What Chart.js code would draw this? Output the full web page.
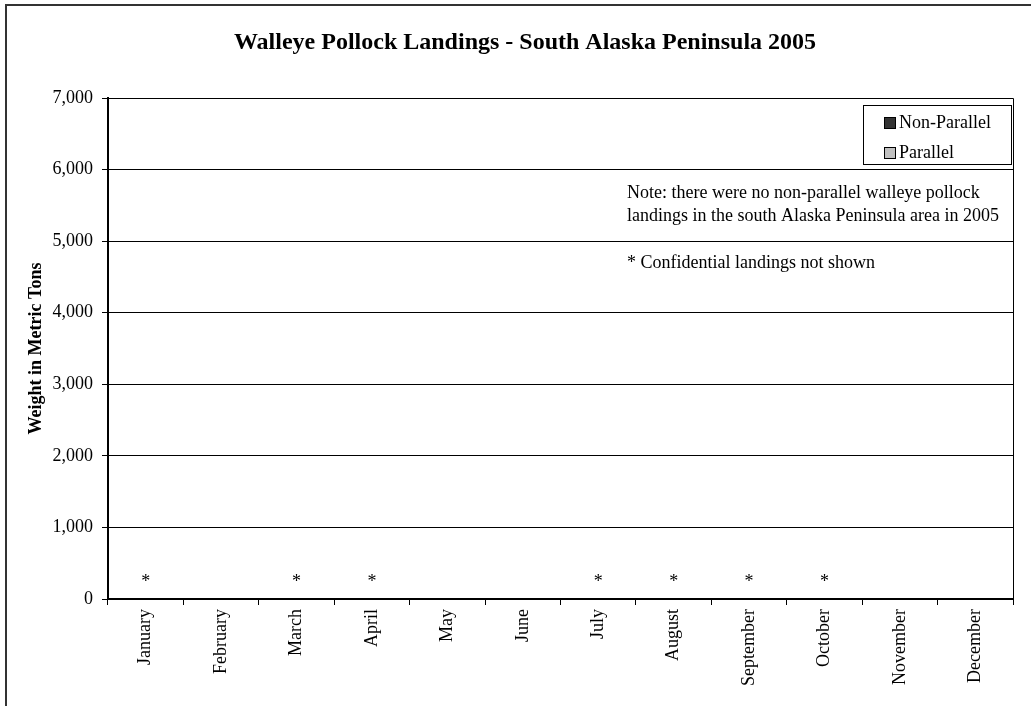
<!DOCTYPE html>
<html>
<head>
<meta charset="utf-8">
<script src="https://cdn.jsdelivr.net/npm/chart.js@4.4.0/dist/chart.umd.min.js"></script>
<style>
  html, body { margin: 0; padding: 0; background: #fff; overflow: hidden; }
  #wrap { width: 1031px; height: 706px; }
</style>
</head>
<body>
<div id="wrap"><canvas id="chart" width="1031" height="706"></canvas></div>
<script>
const months = ['January', 'February', 'March', 'April', 'May', 'June', 'July',
    'August', 'September', 'October', 'November', 'December'];
// no non-parallel landings, parallel landings confidential where marked
const nonParallel = [0, 0, 0, 0, 0, 0, 0, 0, 0, 0, 0, 0];
const parallel = [null, 0, null, null, 0, 0, null, null, null, null, 0, 0];
const confidential = [true, false, true, true, false, false, true, true, true, true, false, false];
const yTicks = [0, 1000, 2000, 3000, 4000, 5000, 6000, 7000];

const chartTitle = 'Walleye Pollock Landings - South Alaska Peninsula 2005';
const noteLines = ['Note: there were no non-parallel walleye pollock',
    'landings in the south Alaska Peninsula area in 2005'];
const confidentialNote = '* Confidential landings not shown';

const serif = '"Liberation Serif", "Times New Roman", serif';

const extrasPlugin = {
    id: 'extras',
    beforeDraw(chart) {
        const ctx = chart.ctx;
        ctx.save();
        ctx.fillStyle = '#fff';
        ctx.fillRect(0, 0, chart.width, chart.height);
        // outer frame
        ctx.strokeStyle = '#333';
        ctx.lineWidth = 2;
        ctx.beginPath();
        ctx.moveTo(6, chart.height + 5);
        ctx.lineTo(6, 5);
        ctx.lineTo(chart.width + 5, 5);
        ctx.stroke();
        ctx.restore();
    },
    afterDraw(chart) {
        const ctx = chart.ctx;
        const area = chart.chartArea;
        const x = chart.scales.x;
        const y = chart.scales.y;
        ctx.save();

        // plot frame on top and right
        ctx.strokeStyle = '#000';
        ctx.lineWidth = 1;
        ctx.beginPath();
        ctx.moveTo(area.left, area.top + 0.5);
        ctx.lineTo(area.right + 0.5, area.top + 0.5);
        ctx.lineTo(area.right + 0.5, area.bottom);
        ctx.stroke();

        // title
        ctx.fillStyle = '#000';
        ctx.font = 'bold 24px ' + serif;
        ctx.textAlign = 'center';
        ctx.textBaseline = 'middle';
        ctx.fillText(chartTitle, 525, 43);

        // confidential markers
        ctx.font = '18px ' + serif;
        confidential.forEach(function (c, i) {
            if (c) ctx.fillText('*', x.getPixelForValue(i), y.getPixelForValue(0) - 17);
        });

        // notes
        ctx.textAlign = 'left';
        ctx.font = '18px ' + serif;
        ctx.fillText(noteLines[0], 627, 193);
        ctx.fillText(noteLines[1], 627, 216);
        ctx.fillText(confidentialNote, 627, 263);

        // legend box
        const lx = 863, ly = 105, lw = 148, lh = 59;
        ctx.lineWidth = 1;
        ctx.strokeStyle = '#000';
        ctx.fillStyle = '#fff';
        ctx.fillRect(lx, ly, lw, lh);
        ctx.strokeRect(lx + 0.5, ly + 0.5, lw, lh);
        chart.data.datasets.forEach(function (ds, i) {
            const cy = ly + 17 + i * 30;
            ctx.fillStyle = ds.backgroundColor;
            ctx.fillRect(884, cy - 5, 11, 11);
            ctx.strokeStyle = '#000';
            ctx.strokeRect(884.5, cy - 4.5, 11, 11);
            ctx.fillStyle = '#000';
            ctx.fillText(ds.label, 899, cy + 1);
        });
        ctx.restore();
    }
};

new Chart(document.getElementById('chart').getContext('2d'), {
    type: 'bar',
    data: {
        labels: months,
        datasets: [{
            label: 'Non-Parallel',
            data: nonParallel,
            backgroundColor: '#333333',
            borderWidth: 0
        }, {
            label: 'Parallel',
            data: parallel,
            backgroundColor: '#c0c0c0',
            borderWidth: 0
        }]
    },
    options: {
        responsive: false,
        animation: false,
        layout: { padding: { top: 98, right: 18, left: 0, bottom: 0 } },
        plugins: {
            legend: { display: false },
            tooltip: { enabled: false }
        },
        scales: {
            x: {
                offset: true,
                grid: { drawOnChartArea: false, offset: true, tickLength: 6, color: '#000' },
                border: { color: '#000', width: 2 },
                ticks: {
                    minRotation: 90, maxRotation: 90, padding: 4,
                    color: '#000', font: { family: serif, size: 18 }
                },
                afterFit(scale) { scale.height = 107; }
            },
            y: {
                min: 0, max: 7000,
                afterBuildTicks(scale) { scale.ticks = yTicks.map(v => ({ value: v })); },
                grid: { color: '#000', tickLength: 6, lineWidth: 1 },
                border: { color: '#000', width: 2 },
                ticks: {
                    padding: 9, color: '#000',
                    font: { family: serif, size: 18 },
                    callback: v => v.toLocaleString('en-US')
                },
                title: {
                    display: true, text: 'Weight in Metric Tons', color: '#000',
                    font: { family: serif, size: 18, weight: 'bold' },
                    padding: { top: 26, bottom: 0 }
                },
                afterFit(scale) { scale.width = 108; }
            }
        }
    },
    plugins: [extrasPlugin]
});
</script>
</body>
</html>
